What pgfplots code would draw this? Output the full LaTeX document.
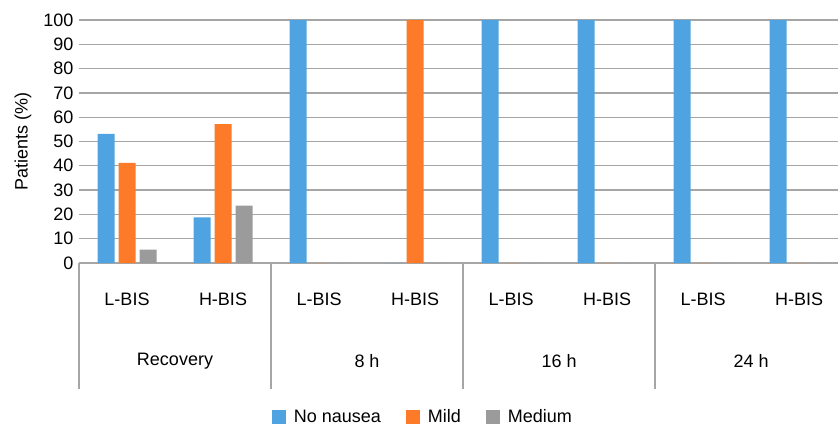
\documentclass[border=0pt]{standalone}
\usepackage{fontspec}
\setmainfont{Liberation Sans}
\usepackage{pgfplots}
\pgfplotsset{compat=1.18}

\definecolor{cblue}{RGB}{79,163,224}
\definecolor{corange}{RGB}{253,122,41}
\definecolor{cgray}{RGB}{155,155,155}
\definecolor{gridc}{RGB}{166,166,166}
\newcommand{\fs}{\fontsize{18bp}{21bp}\selectfont}

\pgfplotsset{
  sqlegend/.style={legend image code/.code={\fill[##1] (0bp,-7bp) rectangle (14bp,7bp);}},
}

\begin{document}
\begin{tikzpicture}
\begin{axis}[
    scale only axis, width=759bp, height=243bp,
    xmin=-0.5, xmax=7.406, ymin=0, ymax=100,
    ybar=4bp, bar width=17bp,
    axis x line*=bottom, axis y line*=left,
    x axis line style={gridc, line width=1.3bp, -},
    y axis line style={draw=none},
    ymajorgrids, grid style={gridc, line width=1.3bp},
    major tick length=0pt,
    xtick={0,1,2,3,4,5,6,7},
    xticklabels={L-BIS,H-BIS,L-BIS,H-BIS,L-BIS,H-BIS,L-BIS,H-BIS},
    ytick={0,10,...,100},
    tick label style={font=\fs},
    /pgf/number format/assume math mode=true,
    yticklabel style={xshift=-2bp},
    xticklabel style={anchor=center, yshift=-36bp},
    ylabel={Patients (\%)},
    ylabel style={font=\fs, at={([xshift=-56bp]axis description cs:0,0.5)}, anchor=center},
    clip=false,
    legend columns=3,
    legend style={draw=none, fill=none, font=\fs, at={(0.453,-0.634)}, anchor=center,
      /tikz/every odd column/.append style={column sep=6bp},
      /tikz/every even column/.append style={column sep=23bp}},
]
\addplot[fill=cblue, draw=none, sqlegend] coordinates {
  (0,53.1) (1,18.8) (2,100) (3,0) (4,100) (5,100) (6,100) (7,100)};
\addplot[fill=corange, draw=none, sqlegend] coordinates {
  (0,41.2) (1,57.2) (2,0) (3,100) (4,0) (5,0) (6,0) (7,0)};
\addplot[fill=cgray, draw=none, sqlegend] coordinates {
  (0,5.5) (1,23.6) (2,0) (3,0) (4,0) (5,0) (6,0) (7,0)};
\legend{No nausea, Mild, Medium}

% group dividers and group labels
\draw[gridc, line width=1.3bp] (axis cs:-0.5,0) -- ([yshift=-126bp]axis cs:-0.5,0);
\draw[gridc, line width=1.3bp] (axis cs:1.5,0) -- ([yshift=-126bp]axis cs:1.5,0);
\draw[gridc, line width=1.3bp] (axis cs:3.5,0) -- ([yshift=-126bp]axis cs:3.5,0);
\draw[gridc, line width=1.3bp] (axis cs:5.5,0) -- ([yshift=-126bp]axis cs:5.5,0);
\node[font=\fs, anchor=center] at ([yshift=-98bp]axis cs:0.5,0) {Recovery};
\node[font=\fs, anchor=center] at ([yshift=-98bp]axis cs:2.5,0) {8 h};
\node[font=\fs, anchor=center] at ([yshift=-98bp]axis cs:4.5,0) {16 h};
\node[font=\fs, anchor=center] at ([yshift=-98bp]axis cs:6.5,0) {24 h};
\coordinate (ll) at (rel axis cs:0,0);
\end{axis}
\pgfresetboundingbox
\path[use as bounding box] ([xshift=-79bp,yshift=-167bp]ll) rectangle ([xshift=759bp,yshift=263bp]ll);
\end{tikzpicture}
\end{document}
